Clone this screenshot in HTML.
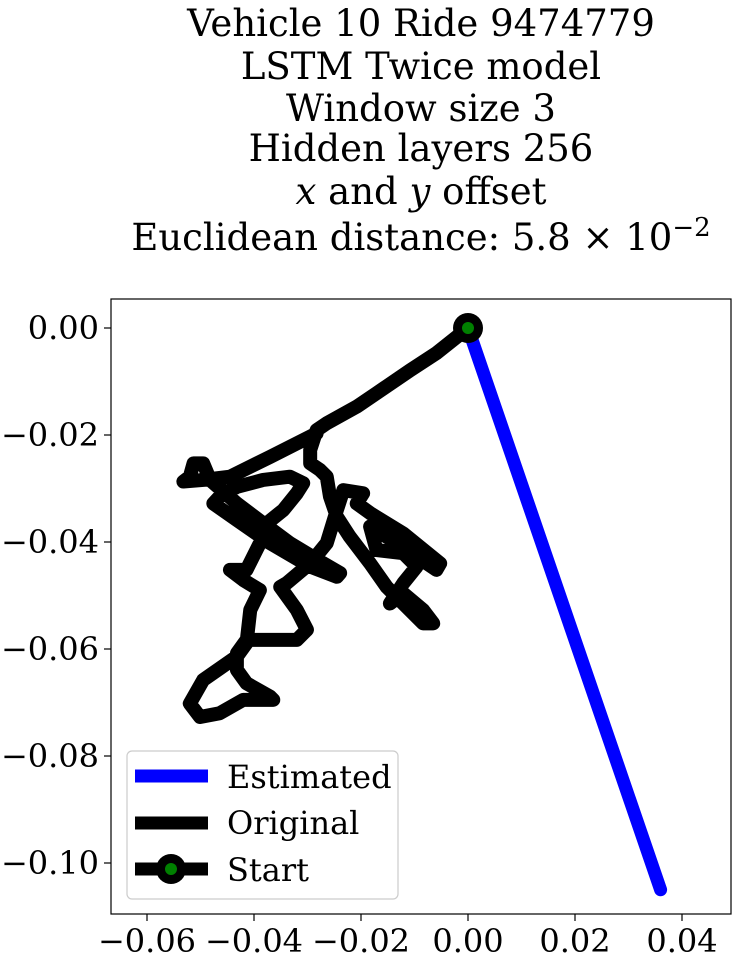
<!DOCTYPE html>
<html><head><meta charset="utf-8">
<style>
html,body{margin:0;padding:0;background:#fff;}
svg{display:block;font-family:"DejaVu Serif","Liberation Serif",serif;}
</style></head>
<body>
<svg id="chart" width="739" height="962" viewBox="0 0 739 962" xmlns="http://www.w3.org/2000/svg">
<g font-size="37" text-anchor="middle" fill="#000">
<text x="421" y="36">Vehicle 10 Ride 9474779</text>
<text x="421" y="79">LSTM Twice model</text>
<text x="421" y="121">Window size 3</text>
<text x="421" y="161">Hidden layers 256</text>
<text x="421" y="204"><tspan font-style="italic">x</tspan> and <tspan font-style="italic">y</tspan> offset</text>
<text x="421" y="250">Euclidean distance: 5.8 × 10<tspan dy="-14" font-size="26">−2</tspan></text>
</g>
<rect x="111" y="299" width="620" height="615" fill="#fff" stroke="#000" stroke-width="1.2"/>
<g id="xticks"></g>
<g id="yticks"></g>
<g id="series"></g>
<g>
<rect x="127" y="751" width="271" height="148" rx="5" fill="#fff" stroke="#ccc" stroke-width="1.2" fill-opacity="0.8"/>
<line x1="135" y1="776" x2="208" y2="776" stroke="#0000ff" stroke-width="13"/>
<text x="227" y="788" font-size="32">Estimated</text>
<line x1="135" y1="823" x2="208" y2="823" stroke="#000" stroke-width="13"/>
<text x="227" y="834" font-size="32">Original</text>
<line x1="135" y1="869" x2="208" y2="869" stroke="#000" stroke-width="13"/>
<circle cx="171" cy="869" r="15" fill="#000"/>
<circle cx="171" cy="869" r="6" fill="#008000"/>
<text x="227" y="881" font-size="32">Start</text>
</g>
</svg>
<script>
const origX = [0,-0.0059,-0.0108,-0.0171,-0.0208,-0.0264,-0.0283,-0.0295,-0.0295,-0.0277,-0.0264,-0.0258,-0.0245,-0.0221,-0.0183,-0.0152,-0.0121,-0.0084,-0.0065,-0.0084,-0.0121,-0.0146,-0.0121,-0.0096,-0.0121,-0.0171,-0.0183,-0.0133,-0.0059,-0.0052,-0.0121,-0.0183,-0.0208,-0.0196,-0.0233,-0.0245,-0.0264,-0.0295,-0.0339,-0.0351,-0.0320,-0.0301,-0.0320,-0.0370,-0.0414,-0.0432,-0.0432,-0.0414,-0.0370,-0.0364,-0.0420,-0.0464,-0.0501,-0.0520,-0.0495,-0.0432,-0.0414,-0.0407,-0.0389,-0.0420,-0.0445,-0.0414,-0.0389,-0.0376,-0.0345,-0.0320,-0.0308,-0.0333,-0.0383,-0.0432,-0.0464,-0.0476,-0.0432,-0.0370,-0.0295,-0.0245,-0.0239,-0.0270,-0.0333,-0.0383,-0.0432,-0.0482,-0.0495,-0.0513,-0.0520,-0.0532,-0.0495,-0.0445,-0.0370,-0.0283];
const origY = [0,-0.0047,-0.0079,-0.0122,-0.0147,-0.0178,-0.0191,-0.0228,-0.0253,-0.0265,-0.0278,-0.0315,-0.0353,-0.0390,-0.0440,-0.0484,-0.0515,-0.0552,-0.0552,-0.0527,-0.0496,-0.0515,-0.0477,-0.0446,-0.0421,-0.0415,-0.0371,-0.0402,-0.0452,-0.0440,-0.0384,-0.0346,-0.0328,-0.0309,-0.0303,-0.0340,-0.0402,-0.0440,-0.0477,-0.0484,-0.0527,-0.0564,-0.0583,-0.0583,-0.0583,-0.0608,-0.0639,-0.0664,-0.0689,-0.0695,-0.0695,-0.0720,-0.0727,-0.0702,-0.0658,-0.0614,-0.0589,-0.0527,-0.0490,-0.0471,-0.0452,-0.0452,-0.0402,-0.0365,-0.0340,-0.0309,-0.0290,-0.0278,-0.0284,-0.0297,-0.0315,-0.0328,-0.0359,-0.0402,-0.0446,-0.0465,-0.0458,-0.0440,-0.0402,-0.0365,-0.0328,-0.0284,-0.0253,-0.0253,-0.0278,-0.0287,-0.0284,-0.0278,-0.0241,-0.0197];
const estX = [0, 0.036];
const estY = [0, -0.105];
const startPt = [0, 0];
const xTickVals = [-0.06,-0.04,-0.02,0.00,0.02,0.04];
const xTickLabels = ["−0.06","−0.04","−0.02","0.00","0.02","0.04"];
const yTickVals = [0.00,-0.02,-0.04,-0.06,-0.08,-0.10];
const yTickLabels = ["0.00","−0.02","−0.04","−0.06","−0.08","−0.10"];

const NS="http://www.w3.org/2000/svg";
const SC=5350, X0=468, Y0=328;
function sx(v){return X0+v*SC;}
function sy(v){return Y0-v*SC;}
function mk(t,a,p){const e=document.createElementNS(NS,t);for(const k in a)e.setAttribute(k,a[k]);p.appendChild(e);return e;}

const xg=document.getElementById('xticks');
xTickVals.forEach((v,i)=>{
  const l=mk('line',{x1:sx(v),x2:sx(v),y1:914,y2:921,stroke:'#000','stroke-width':1.2},xg);
  
  
  const t=mk('text',{x:sx(v),y:952,'font-size':32,'text-anchor':'middle'},xg);
  
  
  t.textContent=xTickLabels[i];
});
const yg=document.getElementById('yticks');
yTickVals.forEach((v,i)=>{
  const l=mk('line',{x1:104,x2:111,y1:sy(v),y2:sy(v),stroke:'#000','stroke-width':1.2},yg);
  
  
  const t=mk('text',{x:99,y:sy(v)+11,'font-size':32,'text-anchor':'end'},yg);
  
  
  t.textContent=yTickLabels[i];
});
const sg=document.getElementById('series');
const ep=mk('polyline',{points:estX.map((x,i)=>sx(x)+','+sy(estY[i])).join(' '),fill:'none',stroke:'#0000ff','stroke-width':13,'stroke-linecap':'round'},sg);


const op=mk('polyline',{points:origX.map((x,i)=>sx(x)+','+sy(origY[i])).join(' '),fill:'none',stroke:'#000','stroke-width':14,'stroke-linecap':'round','stroke-linejoin':'round'},sg);


const c1=mk('circle',{cx:sx(startPt[0]),cy:sy(startPt[1]),r:15,fill:'#000'},sg);


const c2=mk('circle',{cx:sx(startPt[0]),cy:sy(startPt[1]),r:6,fill:'#008000'},sg);


</script>
</body></html>
